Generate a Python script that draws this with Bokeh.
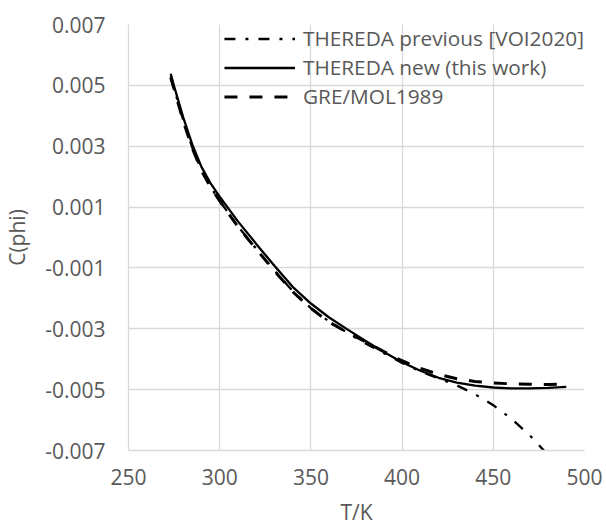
from bokeh.plotting import figure
from bokeh.models import Range1d, FixedTicker, PrintfTickFormatter, Legend, LegendItem
from bokeh.embed import file_html
from bokeh.resources import INLINE

# ---- data ----
T_prev = [273.15, 275, 280, 285, 290, 295, 300, 310, 320, 330, 340, 350, 360, 370,
          380, 390, 400, 410, 420, 430, 440, 450, 460, 470, 478]
C_prev = [0.0053, 0.0049, 0.00385, 0.00295, 0.00222, 0.00166, 0.0012, 0.00037,
          -0.00037, -0.00108, -0.00176, -0.00232, -0.00276, -0.00313, -0.00348,
          -0.0038, -0.00412, -0.0044, -0.00463, -0.00486, -0.00515, -0.00551,
          -0.00596, -0.0065, -0.00702]

T_new = [273.15, 275, 280, 285, 290, 295, 300, 310, 320, 330, 340, 350, 360, 370,
         380, 390, 400, 410, 420, 430, 440, 450, 460, 470, 480, 490]
C_new = [0.00538, 0.00497, 0.00395, 0.00305, 0.00232, 0.00178, 0.00134, 0.00053,
         -0.00021, -0.00093, -0.00162, -0.00217, -0.00263, -0.00302, -0.0034,
         -0.00376, -0.0041, -0.00438, -0.00461, -0.00477, -0.00487, -0.00493,
         -0.00496, -0.00496, -0.00494, -0.00491]

T_gre = [273.15, 275, 280, 285, 290, 295, 300, 310, 320, 330, 340, 350, 360, 370,
         380, 390, 400, 410, 420, 430, 440, 450, 460, 470, 480, 490]
C_gre = [0.00525, 0.00488, 0.00383, 0.00293, 0.0022, 0.00165, 0.0012, 0.00035,
         -0.00038, -0.0011, -0.00178, -0.00233, -0.00278, -0.00312, -0.00343,
         -0.00375, -0.00405, -0.0043, -0.0045, -0.00464, -0.00473, -0.00478,
         -0.00481, -0.00482, -0.00483, -0.00482]

labels = ["THEREDA previous [VOI2020]", "THEREDA new (this work)", "GRE/MOL1989"]
x_ticks = [250, 300, 350, 400, 450, 500]
y_ticks = [-0.007, -0.005, -0.003, -0.001, 0.001, 0.003, 0.005, 0.007]

FONT = "Open Sans"
FS = "21px"
FS_LEG = "20.8px"
GREY = "#595959"
GRID = "#d9d9d9"

p = figure(width=602, height=530, output_backend="svg", toolbar_location=None,
           x_range=Range1d(250, 500), y_range=Range1d(-0.007, 0.007),
           min_border_left=128, min_border_right=18, min_border_top=24,
           min_border_bottom=80)
p.outline_line_color = None
p.background_fill_color = "white"
p.border_fill_color = "white"

r_prev = p.line(T_prev, C_prev, line_color="black", line_width=2.3, line_dash="11 10 3 10")
r_new = p.line(T_new, C_new, line_color="black", line_width=2.3)
r_gre = p.line(T_gre, C_gre, line_color="black", line_width=3, line_dash="13 12")

p.xaxis.ticker = FixedTicker(ticks=x_ticks)
p.yaxis.ticker = FixedTicker(ticks=y_ticks)
p.yaxis.formatter = PrintfTickFormatter(format="%.3f")
p.xgrid.ticker = FixedTicker(ticks=x_ticks)
p.ygrid.ticker = FixedTicker(ticks=y_ticks)
p.grid.grid_line_color = GRID
p.grid.grid_line_width = 1.3

for ax in (p.xaxis, p.yaxis):
    ax.major_tick_line_color = None
    ax.minor_tick_line_color = None
    ax.major_tick_out = 0
    ax.major_tick_in = 0
    ax.axis_line_color = GRID
    ax.axis_line_width = 1.3
    ax.major_label_text_font = FONT
    ax.major_label_text_font_size = FS
    ax.major_label_text_color = GREY
    ax.axis_label_text_font = FONT
    ax.axis_label_text_font_size = FS
    ax.axis_label_text_color = GREY
    ax.axis_label_text_font_style = "normal"

p.xaxis.axis_label = "T/K"
p.yaxis.axis_label = "C(phi)"
p.xaxis.major_label_standoff = 18
p.xaxis.axis_label_standoff = 10
p.yaxis.major_label_standoff = 23
p.yaxis.axis_label_standoff = 11

legend = Legend(items=[LegendItem(label=labels[0], renderers=[r_prev]),
                       LegendItem(label=labels[1], renderers=[r_new]),
                       LegendItem(label=labels[2], renderers=[r_gre])],
                location="top_right")
legend.margin = 0
legend.padding = 8
legend.spacing = 1
legend.glyph_width = 71
legend.glyph_height = 27
legend.label_height = 27
legend.label_standoff = 8
legend.label_text_font = FONT
legend.label_text_font_size = FS_LEG
legend.label_text_color = GREY
legend.border_line_color = None
legend.background_fill_alpha = 0
p.add_layout(legend)

open("out.html", "w").write(file_html(p, INLINE))
